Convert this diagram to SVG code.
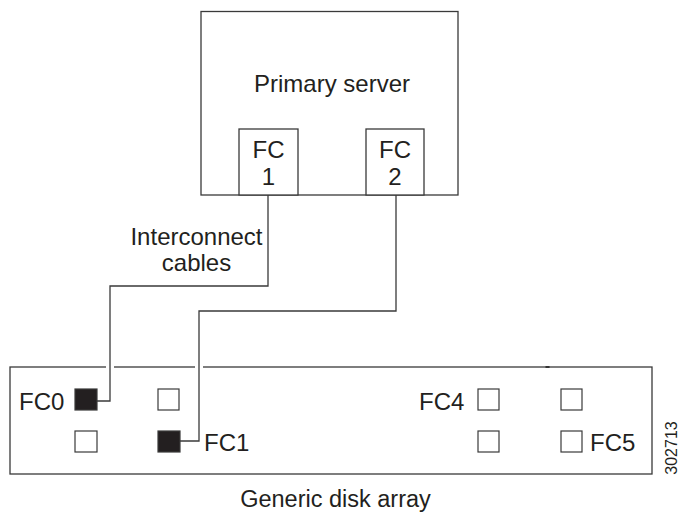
<svg xmlns="http://www.w3.org/2000/svg" width="678" height="514" viewBox="0 0 678 514">
<style>
  .box { fill: #fff; stroke: #3a3a3a; stroke-width: 1.3; }
  .port { fill: #fff; stroke: #3a3a3a; stroke-width: 1.2; }
  .port.on { fill: #231f20; }
  .t { font-family: "Liberation Sans", Arial, sans-serif; font-size: 24px; fill: #231f20; }
  .c { text-anchor: middle; }
  .cable { fill: none; stroke: #3a3a3a; stroke-width: 1.3; }
</style>
<rect width="678" height="514" fill="#fff"/>
<g id="server">
  <rect class="box" x="201" y="11.5" width="257" height="183.5"/>
  <text class="t c" x="332" y="92">Primary server</text>
</g>
<g id="fc1">
  <rect class="box" x="239" y="129" width="59" height="66"/>
  <text class="t c" x="268.5" y="158">FC</text>
  <text class="t c" x="268.5" y="185">1</text>
</g>
<g id="fc2">
  <rect class="box" x="366" y="129" width="58" height="66"/>
  <text class="t c" x="395" y="158">FC</text>
  <text class="t c" x="395" y="185">2</text>
</g>
<g id="array">
  <rect class="box" x="10" y="367" width="642" height="107"/>
  <rect x="545.5" y="366" width="4" height="2" fill="#333"/>
  <text class="t c" x="335.5" y="507" style="font-size:23.5px">Generic disk array</text>
</g>
<g id="ports">
  <rect class="port on" x="75" y="389" width="22" height="21"/>
  <rect class="port" x="158" y="389" width="21" height="21"/>
  <rect class="port" x="75" y="431" width="22" height="21"/>
  <rect class="port on" x="158" y="431" width="22" height="21"/>
  <rect class="port" x="478" y="389" width="21" height="21"/>
  <rect class="port" x="561" y="389" width="21" height="21"/>
  <rect class="port" x="478" y="431" width="21" height="21"/>
  <rect class="port" x="561" y="431" width="21" height="21"/>
  <text class="t" x="19" y="410">FC0</text>
  <text class="t" x="204" y="451">FC1</text>
  <text class="t" x="419" y="410">FC4</text>
  <text class="t" x="590" y="451">FC5</text>
</g>
<g id="connectors">
  <rect x="106" y="364" width="8" height="6" fill="#fff"/>
  <rect x="195" y="364" width="8" height="6" fill="#fff"/>
  <path class="cable" d="M268,195 V286 H110 V401 H97"/>
  <path class="cable" d="M396,195 V311 H199 V441 H180"/>
</g>
<g id="labels">
  <text class="t c" x="196.5" y="245">Interconnect</text>
  <text class="t c" x="196.5" y="271">cables</text>
  <text class="t" transform="translate(676.5,448) rotate(-90)" text-anchor="middle" style="font-size:16px">302713</text>
</g>
</svg>
